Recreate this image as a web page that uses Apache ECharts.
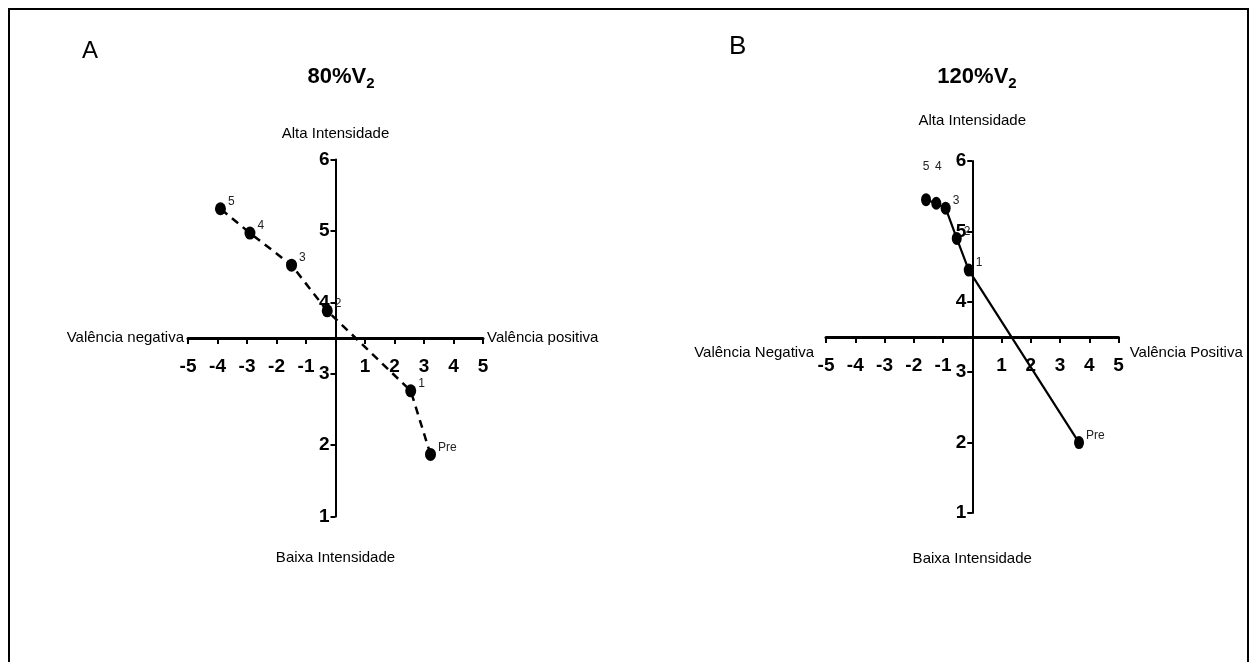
<!DOCTYPE html>
<html><head><meta charset="utf-8">
<script src="https://cdn.jsdelivr.net/npm/echarts@6/dist/echarts.min.js"></script>
<style>html,body{margin:0;padding:0;background:#fff}#c{width:1250px;height:662px}</style>
</head><body><div id="c"></div>
<script>
// ---- data ----
const pointLabels = ['Pre', '1', '2', '3', '4', '5'];
const aValencia = [3.22, 2.55, -0.28, -1.49, -2.9, -3.9];
const aIntensidade = [1.87, 2.76, 3.88, 4.52, 4.97, 5.31];
const bValencia = [3.65, -0.12, -0.53, -0.91, -1.23, -1.58];
const bIntensidade = [2.0, 4.45, 4.90, 5.33, 5.40, 5.45];
const xTicks = [-5, -4, -3, -2, -1, 0, 1, 2, 3, 4, 5];
const yTicks = [1, 2, 3, 4, 5, 6];
const xMin = -5, xMax = 5, yMin = 1, yMax = 6, crossY = 3.5, crossX = 0;

const FONT = "'Liberation Sans Narrow','Arial Narrow','Liberation Sans',Arial,sans-serif";
const grids = [
  {left: 188, top: 159.5, width: 295, height: 357},
  {left: 826, top: 161, width: 292.5, height: 352}
];
const names = [
  {neg: 'Valência negativa', pos: 'Valência positiva', negGap: 4, posGap: 4, lh: 0, altGap: 18, baixaGap: 34},
  {neg: 'Valência Negativa', pos: 'Valência Positiva', negGap: 12, posGap: 10, lh: 32, altGap: 33, baixaGap: 38}
];

const xAxes = [], yAxes = [];
grids.forEach((g, i) => {
  const xOff = -(crossY - yMin) / (yMax - yMin) * g.height;
  const yOff = -(crossX - xMin) / (xMax - xMin) * g.width;
  const nm = names[i];
  const xNameStyle = nm.lh
    ? {fontFamily: FONT, fontSize: 15, color: '#000', verticalAlign: 'top', lineHeight: nm.lh}
    : {fontFamily: FONT, fontSize: 15, color: '#000'};
  xAxes.push({
    gridIndex: i, type: 'value', min: xMin, max: xMax, interval: 1, position: 'bottom', offset: xOff,
    axisLine: {onZero: false, lineStyle: {color: '#000', width: 3}},
    axisTick: {length: 6, lineStyle: {color: '#000', width: 2}},
    axisLabel: {margin: 19, color: '#000', fontFamily: FONT, fontWeight: 'bold', fontSize: 19,
      formatter: v => (v === 0 ? '' : String(v))},
    splitLine: {show: false},
    name: nm.pos, nameLocation: 'end', nameGap: nm.posGap, nameTextStyle: xNameStyle
  });
  xAxes.push({
    gridIndex: i, type: 'value', min: xMin, max: xMax, interval: 1, position: 'bottom', offset: xOff,
    axisLine: {show: false, onZero: false}, axisTick: {show: false}, axisLabel: {show: false}, splitLine: {show: false},
    name: nm.neg, nameLocation: 'start', nameGap: nm.negGap, nameTextStyle: xNameStyle
  });
  yAxes.push({
    gridIndex: i, type: 'value', min: yMin, max: yMax, interval: 1, position: 'left', offset: yOff,
    axisLine: {onZero: false, lineStyle: {color: '#000', width: 2}},
    axisTick: {length: 5, lineStyle: {color: '#000', width: 2}},
    axisLabel: {margin: 6, color: '#000', fontFamily: FONT, fontWeight: 'bold', fontSize: 19},
    splitLine: {show: false},
    name: 'Alta Intensidade', nameLocation: 'end', nameGap: nm.altGap,
    nameTextStyle: {fontFamily: FONT, fontSize: 15, color: '#000', align: 'center'}
  });
  yAxes.push({
    gridIndex: i, type: 'value', min: yMin, max: yMax, interval: 1, position: 'left', offset: yOff,
    axisLine: {show: false, onZero: false}, axisTick: {show: false}, axisLabel: {show: false}, splitLine: {show: false},
    name: 'Baixa Intensidade', nameLocation: 'start', nameGap: nm.baixaGap,
    nameTextStyle: {fontFamily: FONT, fontSize: 15, color: '#000', align: 'center', verticalAlign: 'top'}
  });
});

function buildData(xs, ys, overrides) {
  return xs.map((x, k) => {
    const item = {value: [x, ys[k]], name: pointLabels[k]};
    if (overrides && overrides[k]) item.label = overrides[k];
    return item;
  });
}
const labelStyle = {show: true, position: 'right', distance: 2, offset: [0, -7],
  formatter: p => p.name, fontFamily: FONT, fontSize: 12, color: '#222'};

const option = {
  backgroundColor: '#fff',
  animation: false,
  title: [
    {text: 'A', left: 77, top: 34, textStyle: {fontFamily: "'Liberation Sans',Arial,sans-serif", fontWeight: 'normal', fontSize: 24, color: '#000'}},
    {text: 'B', left: 724, top: 29, textStyle: {fontFamily: "'Liberation Sans',Arial,sans-serif", fontWeight: 'normal', fontSize: 26, color: '#000'}},
    {text: '{m|80%V}{s|2}', left: 336, top: 57, textAlign: 'center',
      textStyle: {rich: {m: {fontFamily: FONT, fontWeight: 'bold', fontSize: 22, color: '#000'},
        s: {fontFamily: FONT, fontWeight: 'bold', fontSize: 15, color: '#000', padding: [14, 0, 0, 0]}}}},
    {text: '{m|120%V}{s|2}', left: 972, top: 57, textAlign: 'center',
      textStyle: {rich: {m: {fontFamily: FONT, fontWeight: 'bold', fontSize: 22, color: '#000'},
        s: {fontFamily: FONT, fontWeight: 'bold', fontSize: 15, color: '#000', padding: [14, 0, 0, 0]}}}}
  ],
  graphic: [{type: 'rect', shape: {x: 9, y: 9, width: 1239, height: 700}, style: {fill: 'none', stroke: '#000', lineWidth: 2}, silent: true}],
  grid: grids,
  xAxis: xAxes,
  yAxis: yAxes,
  series: [
    {type: 'line', xAxisIndex: 0, yAxisIndex: 0, data: buildData(aValencia, aIntensidade),
      symbol: 'circle', symbolSize: [11, 13], itemStyle: {color: '#000'},
      lineStyle: {color: '#000', width: 2.5, type: [8, 6]}, label: labelStyle},
    {type: 'line', xAxisIndex: 2, yAxisIndex: 2, data: buildData(bValencia, bIntensidade, {
        4: {position: 'top', distance: 24, offset: [2, 0]},
        5: {position: 'top', distance: 21, offset: [0, 0]}}),
      symbol: 'circle', symbolSize: [10, 13], itemStyle: {color: '#000'},
      lineStyle: {color: '#000', width: 2.2}, label: labelStyle}
  ]
};
echarts.init(document.getElementById('c'), null, {renderer: 'canvas'}).setOption(option);
</script></body></html>
